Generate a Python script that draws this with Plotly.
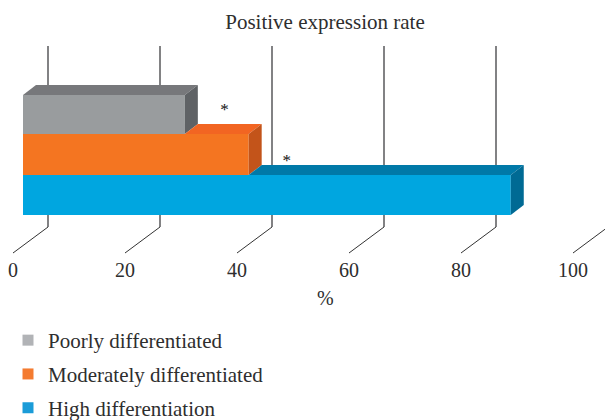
import plotly.graph_objects as go

# --- data ---
categories = ["Poorly differentiated", "Moderately differentiated", "High differentiation"]
values = [28.9, 40.3, 87.1]
tick_values = [0, 20, 40, 60, 80, 100]

# --- styling / layout constants (all in page pixels) ---
PAGE_W, PAGE_H, BODY = 605, 420, 0
W, H = PAGE_W - BODY, PAGE_H - BODY
PX = 5.6                 # pixels per percent
FLOOR_X0 = 13            # pixel of 0 on the front floor (tick labels)
BAR_X0 = 23              # pixel of 0 on the bar front plane
DX, DY = 13, 10          # bar depth
WALL_DX = 35             # wall offset from floor front
FLOOR_FRONT, FLOOR_BACK, WALL_TOP = 253, 227, 46
bar_centers = [114.5, 154.5, 195]
bar_heights = [39, 41, 40]
front = ["#999c9e", "#f47521", "#00a6e0"]
top = ["#77787b", "#f26522", "#0079a8"]
side = ["#5f6265", "#c3541a", "#006a94"]
legend_colors = ["#b1b3b6", "#f47b30", "#1b9cd8"]
FONT = "Liberation Serif"
TEXT = "#2e2e2e"


def paper_x(px):
    return (px - BODY) / W


def paper_y(py):
    return 1 - (py - BODY) / H


fig = go.Figure()

# back wall and floor lines (drawn on the floor axis)
wall_shift = WALL_DX / PX
vx, vy, dx, dy = [], [], [], []
for t in tick_values:
    vx += [t + wall_shift, t + wall_shift, None]
    vy += [WALL_TOP, FLOOR_BACK, None]
    dx += [t, t + wall_shift, None]
    dy += [FLOOR_FRONT, FLOOR_BACK, None]
fig.add_trace(go.Scatter(x=vx, y=vy, mode="lines", line=dict(color="#58595b", width=1.5),
                         showlegend=False, hoverinfo="skip"))
fig.add_trace(go.Scatter(x=dx, y=dy, mode="lines", line=dict(color="#333333", width=1),
                         showlegend=False, hoverinfo="skip"))

# front faces
for i, c in enumerate(categories):
    fig.add_trace(go.Bar(x=[values[i]], y=[bar_centers[i]], width=[bar_heights[i]], orientation="h",
                         marker=dict(color=front[i], line=dict(width=0)), xaxis="x2", yaxis="y2",
                         showlegend=False, name=c))

# top and side faces
ddx = DX / PX
for i, c in enumerate(categories):
    v = values[i]
    y0 = bar_centers[i] - bar_heights[i] / 2
    y1 = bar_centers[i] + bar_heights[i] / 2
    start = values[i - 1] if i else 0
    fig.add_trace(go.Scatter(x=[start, start + ddx, v + ddx, v, start], y=[y0, y0 - DY, y0 - DY, y0, y0],
                             fill="toself", fillcolor=top[i], mode="none", xaxis="x2", yaxis="y2",
                             showlegend=False, hoverinfo="skip"))
    fig.add_trace(go.Scatter(x=[v, v + ddx, v + ddx, v, v], y=[y0, y0 - DY, y1 - DY, y1, y0],
                             fill="toself", fillcolor=side[i], mode="none", xaxis="x2", yaxis="y2",
                             showlegend=False, hoverinfo="skip"))

# significance stars
fig.add_trace(go.Scatter(x=[values[1] - 4.3, values[2] - 40], y=[111, 162], mode="text", text=["*", "*"],
                         textfont=dict(family=FONT, size=17, color="#111111"), xaxis="x2", yaxis="y2",
                         showlegend=False, hoverinfo="skip"))

# legend entries
for c, col in zip(categories, legend_colors):
    fig.add_trace(go.Scatter(x=[None], y=[None], mode="markers", name=c, legendgroup=c,
                             marker=dict(symbol="square", size=11, color=col), xaxis="x2", yaxis="y2"))

fig.update_layout(
    width=W, height=H, autosize=False, margin=dict(l=0, r=0, t=0, b=0, autoexpand=False),
    paper_bgcolor="white", plot_bgcolor="white", barmode="overlay",
    font=dict(family=FONT, color=TEXT, size=18),
    title=dict(text="Positive expression rate", x=paper_x(325), xanchor="center", xref="paper",
               y=paper_y(22), yanchor="middle", yref="container", font=dict(family=FONT, size=21, color=TEXT)),
    xaxis=dict(range=[(BODY - FLOOR_X0) / PX, (PAGE_W - FLOOR_X0) / PX], domain=[0, 1], tickvals=tick_values,
               ticktext=[str(t) for t in tick_values], showgrid=False, zeroline=False, showline=False,
               ticks="", anchor="free", position=paper_y(256), tickfont=dict(family=FONT, size=20, color=TEXT)),
    yaxis=dict(range=[PAGE_H, BODY], domain=[0, 1], visible=False),
    xaxis2=dict(range=[(BODY - BAR_X0) / PX, (PAGE_W - BAR_X0) / PX], overlaying="x", visible=False),
    yaxis2=dict(range=[PAGE_H, BODY], overlaying="y", visible=False),
    legend=dict(x=paper_x(8), y=paper_y(320), xanchor="left", yanchor="top", traceorder="grouped",
                tracegroupgap=3.5, bgcolor="rgba(0,0,0,0)", font=dict(family=FONT, size=21, color=TEXT)),
    annotations=[dict(text="%", xref="paper", yref="paper", x=paper_x(325), y=paper_y(298), yanchor="middle",
                      showarrow=False, font=dict(family=FONT, size=20, color=TEXT))],
)

fig.write_html("out.html", config=dict(displayModeBar=False), default_width=f"{W}px", default_height=f"{H}px",
               post_script="document.body.style.margin='0';document.documentElement.style.overflow='hidden';")
